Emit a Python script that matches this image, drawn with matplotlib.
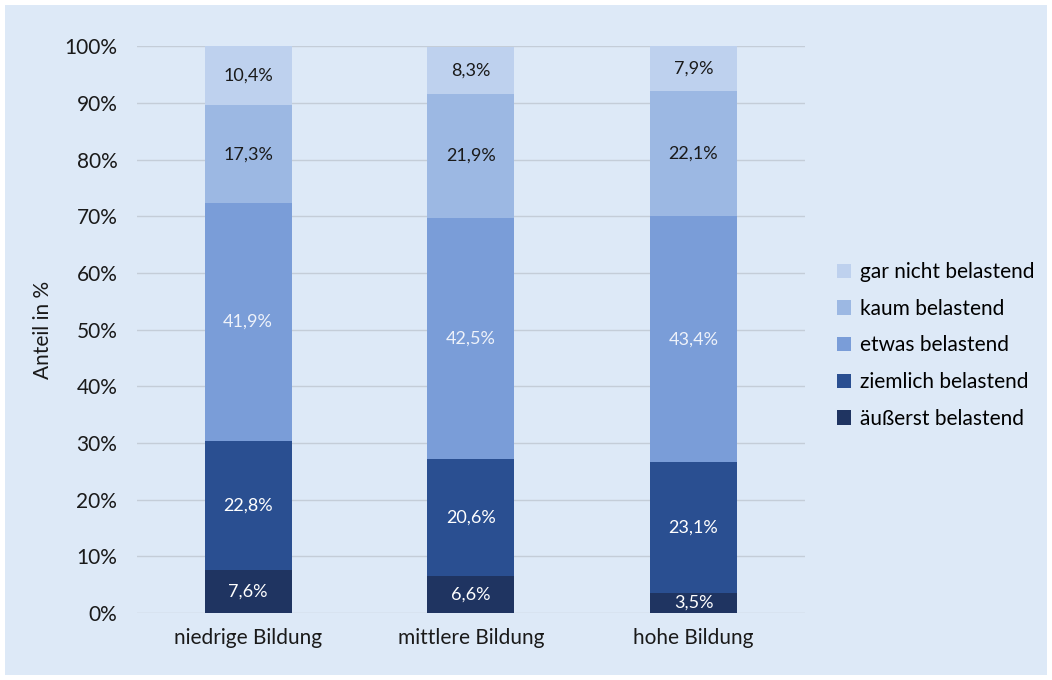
import matplotlib.pyplot as plt
from matplotlib.patches import Rectangle
import numpy as np

plt.rcParams['font.family'] = ['Lato', 'DejaVu Sans']

categories = ['niedrige Bildung', 'mittlere Bildung', 'hohe Bildung']
series = ['äußerst belastend', 'ziemlich belastend', 'etwas belastend',
          'kaum belastend', 'gar nicht belastend']
aeusserst = [7.6, 6.6, 3.5]
ziemlich = [22.8, 20.6, 23.1]
etwas = [41.9, 42.5, 43.4]
kaum = [17.3, 21.9, 22.1]
gar_nicht = [10.4, 8.3, 7.9]

values = [aeusserst, ziemlich, etwas, kaum, gar_nicht]
colors = ['#1f3461', '#2a4f91', '#7a9dd8', '#9cb8e3', '#bed1ee']
text_colors = ['white', 'white', '#eef2fa', '#1a1a1a', '#1a1a1a']
bg = '#dde9f7'

fig = plt.figure(figsize=(10.52, 6.8), dpi=100, facecolor='white')
fig.patches.append(Rectangle((0.005, 0.007), 0.99, 0.986, transform=fig.transFigure,
                             facecolor=bg, edgecolor='none', zorder=-1))
ax = fig.add_axes([0.130, 0.0985, 0.635, 0.8335])
ax.set_facecolor(bg)

x = np.arange(len(categories))
bottom = np.zeros(len(categories))
handles = []
for vals, name, col, tcol in zip(values, series, colors, text_colors):
    bars = ax.bar(x, vals, 0.39, bottom=bottom, color=col, label=name, zorder=3)
    handles.append(bars)
    for xi, b, v in zip(x, bottom, vals):
        ax.text(xi, b + v / 2, f'{v:.1f}%'.replace('.', ','), ha='center', va='center',
                color=tcol, fontsize=13, zorder=4)
    bottom += np.array(vals)

ax.set_xlim(-0.5, 2.5)
ax.set_ylim(0, 100)
ax.set_yticks(range(0, 101, 10))
ax.set_yticklabels([f'{t}%' for t in range(0, 101, 10)])
ax.set_xticks(x)
ax.set_xticklabels(categories)
ax.tick_params(axis='both', length=0, labelsize=15, colors='#1a1a1a')
ax.tick_params(axis='y', pad=14)
ax.tick_params(axis='x', pad=11)
ax.grid(axis='y', color='#c4cdd8', linewidth=1, zorder=0)
for s in ax.spines.values():
    s.set_visible(False)
ax.set_ylabel('Anteil in %', fontsize=15, color='#1a1a1a', labelpad=8)

ax.legend(handles[::-1], series[::-1], loc='center left', bbox_to_anchor=(1.02, 0.472),
          frameon=False, fontsize=15, handlelength=0.7, handleheight=0.7,
          handletextpad=0.4, labelspacing=0.8)

plt.savefig('out.png', dpi=100, facecolor='white')
